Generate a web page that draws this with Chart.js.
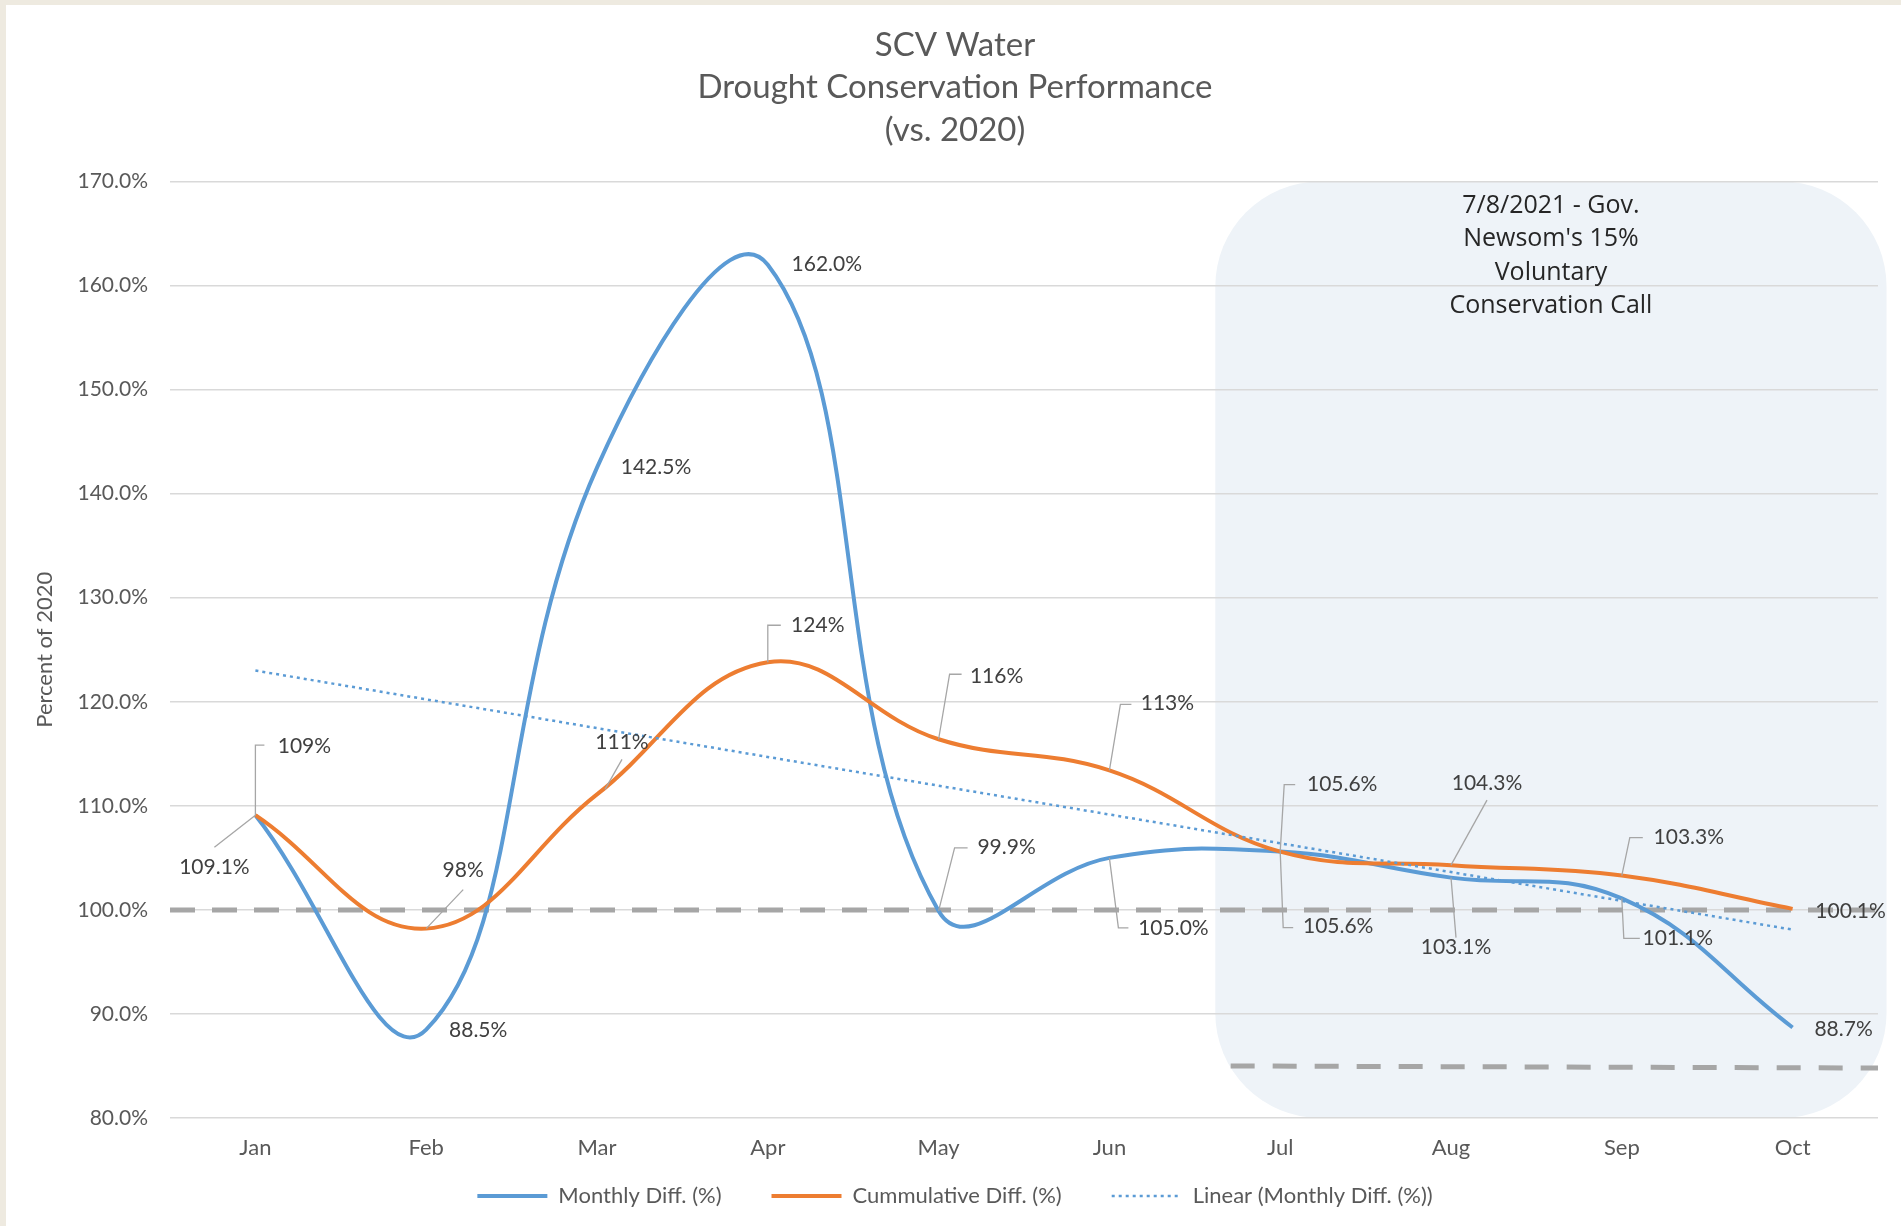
<!DOCTYPE html>
<html>
<head>
<meta charset="utf-8">
<script src="https://cdn.jsdelivr.net/npm/chart.js@4.4.0/dist/chart.umd.min.js"></script>
<style>
  html, body { margin: 0; padding: 0; width: 1901px; height: 1226px; overflow: hidden; background: #EEEAE0; }
  #frame { position: absolute; left: 6px; top: 5px; width: 1895px; height: 1221px; background: #ffffff; }
  #wrap { position: absolute; left: 0; top: 0; width: 1901px; height: 1226px; }
</style>
</head>
<body>
<div id="frame"></div>
<div id="wrap"><canvas id="c" width="1901" height="1226"></canvas></div>
<script>
// ---------- data ----------
const months = ['Jan', 'Feb', 'Mar', 'Apr', 'May', 'Jun', 'Jul', 'Aug', 'Sep', 'Oct'];
const monthlyDiff = [109.1, 88.5, 142.5, 162.0, 99.9, 105.0, 105.6, 103.1, 101.1, 88.7];
const cumulativeDiff = [109.1, 98.2, 111.1, 123.8, 116.4, 113.4, 105.6, 104.3, 103.3, 100.1];
const monthlyLabels = ['109.1%', '88.5%', '142.5%', '162.0%', '99.9%', '105.0%', '105.6%', '103.1%', '101.1%', '88.7%'];
const cumulativeLabels = ['109%', '98%', '111%', '124%', '116%', '113%', '105.6%', '104.3%', '103.3%', '100.1%'];
const trendJanOct = [123.0, 98.1];          // linear trend read at Jan and Oct
const baselineLevel = [100, 100];           // dashed 100% line (start, end)
const targetLevel = [85.0, 84.8];           // dashed 85% line (start, end)
const seriesNames = ['Monthly Diff. (%)', 'Cummulative Diff. (%)', 'Linear (Monthly Diff. (%))'];
const titleLines = ['SCV Water', 'Drought Conservation Performance', '(vs. 2020)'];
const noteLines = ['7/8/2021 - Gov.', "Newsom's 15%", 'Voluntary', 'Conservation Call'];

// ---------- annotation placement (in axis units) ----------
const shadeSpan = { x0: 5.62, x1: 9.55, y0: 80, y1: 170 };
const targetSpan = [5.71, 9.5];
const fullSpan = [-0.5, 9.5];

// data-label placement (pixel offsets from the point, leader polylines)
const labelLayout = [
  { ds: 0, i: 0, dx: -41, dy: 52, leader: [[0, 0], [-41, 32]] },
  { ds: 0, i: 1, dx: 52, dy: 1 },
  { ds: 0, i: 2, dx: 59, dy: 0 },
  { ds: 0, i: 3, dx: 59, dy: -1 },
  { ds: 0, i: 4, dx: 68, dy: -64, leader: [[0, 0], [16, -63], [29, -63]] },
  { ds: 0, i: 5, dx: 64, dy: 70, leader: [[0, 0], [9, 70], [19, 70]] },
  { ds: 0, i: 6, dx: 58, dy: 75, leader: [[0, 0], [3, 76], [13, 76]] },
  { ds: 0, i: 7, dx: 5, dy: 70, leader: [[0, 0], [5, 60]] },
  { ds: 0, i: 8, dx: 56, dy: 40, leader: [[0, 0], [2, 40], [18, 40]] },
  { ds: 0, i: 9, dx: 51, dy: 2 },
  { ds: 1, i: 0, dx: 49, dy: -69, leader: [[0, 0], [0, -70], [9, -70]] },
  { ds: 1, i: 1, dx: 37, dy: -58, leader: [[0, 0], [37, -39]] },
  { ds: 1, i: 2, dx: 25, dy: -52, leader: [[8, -5], [25, -35]] },
  { ds: 1, i: 3, dx: 50, dy: -37, leader: [[0, 0], [0, -37], [13, -37]] },
  { ds: 1, i: 4, dx: 58, dy: -63, leader: [[0, 0], [11, -65], [23, -65]] },
  { ds: 1, i: 5, dx: 58, dy: -67, leader: [[0, 0], [11, -66], [22, -66]] },
  { ds: 1, i: 6, dx: 62, dy: -67, leader: [[0, 0], [4, -67], [15, -67]] },
  { ds: 1, i: 7, dx: 36, dy: -82, leader: [[0, 0], [36, -65]] },
  { ds: 1, i: 8, dx: 67, dy: -38, leader: [[0, 0], [8, -38], [21, -38]] },
  { ds: 1, i: 9, dx: 58, dy: 2 }
];
const labelTexts = [monthlyLabels, cumulativeLabels];

const BLUE = '#5B9BD5', ORANGE = '#ED7D31', DASH = '#A6A6A6', TXT = '#595959';
const FONT = 'Lato, "Open Sans", sans-serif';

const toPoints = arr => arr.map((v, i) => ({ x: i, y: v }));

// ---------- plugins ----------
function roundRectPath(ctx, x, y, w, h, r) {
  r = Math.min(r, w / 2, h / 2);
  ctx.beginPath();
  ctx.moveTo(x + r, y);
  ctx.lineTo(x + w - r, y);
  ctx.arcTo(x + w, y, x + w, y + r, r);
  ctx.lineTo(x + w, y + h - r);
  ctx.arcTo(x + w, y + h, x + w - r, y + h, r);
  ctx.lineTo(x + r, y + h);
  ctx.arcTo(x, y + h, x, y + h - r, r);
  ctx.lineTo(x, y + r);
  ctx.arcTo(x, y, x + r, y, r);
  ctx.closePath();
}

const shadePlugin = {
  id: 'shade',
  beforeDraw(chart) {
    const { ctx, scales: { x, y } } = chart;
    const l = x.getPixelForValue(shadeSpan.x0), r = x.getPixelForValue(shadeSpan.x1);
    const t = y.getPixelForValue(shadeSpan.y1), b = y.getPixelForValue(shadeSpan.y0);
    ctx.save();
    ctx.fillStyle = '#EEF3F8';
    roundRectPath(ctx, l, t, r - l, b - t, 105);
    ctx.fill();
    ctx.restore();
  },
  afterDraw(chart) {
    const { ctx, scales: { x, y } } = chart;
    const cx = x.getPixelForValue((shadeSpan.x0 + shadeSpan.x1) / 2);
    const t = y.getPixelForValue(shadeSpan.y1);
    ctx.save();
    ctx.fillStyle = '#262626';
    ctx.font = '25px "Open Sans", sans-serif';
    ctx.textAlign = 'center';
    ctx.textBaseline = 'middle';
    noteLines.forEach((s, k) => ctx.fillText(s, cx, t + 24 + k * 33.5));
    ctx.restore();
  }
};

const labelPlugin = {
  id: 'dataLabels',
  afterDatasetsDraw(chart) {
    const { ctx } = chart;
    ctx.save();
    labelLayout.forEach(L => {
      const el = chart.getDatasetMeta(L.ds).data[L.i];
      if (!el) return;
      const px = el.x, py = el.y;
      if (L.leader) {
        ctx.strokeStyle = '#A6A6A6';
        ctx.lineWidth = 1.3;
        ctx.setLineDash([]);
        ctx.beginPath();
        L.leader.forEach((p, k) => {
          if (k === 0) ctx.moveTo(px + p[0], py + p[1]);
          else ctx.lineTo(px + p[0], py + p[1]);
        });
        ctx.stroke();
      }
      ctx.fillStyle = '#404040';
      ctx.font = '21px ' + FONT;
      ctx.textAlign = 'center';
      ctx.textBaseline = 'middle';
      ctx.fillText(labelTexts[L.ds][L.i], px + L.dx, py + L.dy);
    });
    ctx.restore();
  }
};

// ---------- chart ----------
new Chart(document.getElementById('c'), {
  type: 'line',
  data: {
    datasets: [
      {
        label: seriesNames[0], data: toPoints(monthlyDiff),
        borderColor: BLUE, backgroundColor: BLUE, borderWidth: 4,
        tension: 0.42, pointRadius: 0, order: 2, fill: false
      },
      {
        label: seriesNames[1], data: toPoints(cumulativeDiff),
        borderColor: ORANGE, backgroundColor: ORANGE, borderWidth: 4,
        tension: 0.4, pointRadius: 0, order: 1, fill: false
      },
      {
        label: seriesNames[2],
        data: [{ x: 0, y: trendJanOct[0] }, { x: months.length - 1, y: trendJanOct[1] }],
        borderColor: BLUE, backgroundColor: BLUE, borderWidth: 2.5, borderDash: [3, 4],
        pointRadius: 0, order: 0, fill: false
      },
      {
        label: '', data: [{ x: fullSpan[0], y: baselineLevel[0] }, { x: fullSpan[1], y: baselineLevel[1] }],
        borderColor: DASH, borderWidth: 5, borderDash: [25, 17], pointRadius: 0, order: 3, fill: false
      },
      {
        label: '', data: [{ x: targetSpan[0], y: targetLevel[0] }, { x: targetSpan[1], y: targetLevel[1] }],
        borderColor: DASH, borderWidth: 5, borderDash: [24, 18], pointRadius: 0, order: 4, fill: false
      }
    ]
  },
  options: {
    responsive: false,
    animation: false,
    devicePixelRatio: 1,
    layout: { padding: { top: 0, left: 32, right: 23, bottom: 9 } },
    scales: {
      x: {
        type: 'linear', min: fullSpan[0], max: fullSpan[1],
        grid: { display: false, drawTicks: false },
        border: { display: false },
        afterBuildTicks: s => { s.ticks = months.map((m, i) => ({ value: i })); },
        ticks: {
          autoSkip: false, maxRotation: 0, mirror: true, padding: -43,
          color: TXT, font: { family: FONT, size: 22 },
          callback: v => months[Math.round(v)] || ''
        },
        afterFit: s => { s.height = 17; }
      },
      y: {
        min: 80, max: 170,
        grid: { color: '#D9D9D9', lineWidth: 1.5, drawTicks: false },
        border: { display: false },
        ticks: {
          stepSize: 10, padding: 22, color: TXT, font: { family: FONT, size: 21 },
          callback: v => v.toFixed(1) + '%'
        },
        title: {
          display: true, text: 'Percent of 2020', color: TXT,
          font: { family: FONT, size: 22 }, padding: { top: 0, bottom: 0 }
        },
        afterFit: s => { s.width = 138; }
      }
    },
    plugins: {
      title: {
        display: true, text: titleLines, color: TXT,
        font: { family: FONT, size: 33, weight: 'normal', lineHeight: 1.288 },
        padding: { top: 24, bottom: 30 }
      },
      legend: {
        display: true, position: 'bottom',
        labels: {
          usePointStyle: true, pointStyle: 'line', pointStyleWidth: 70,
          padding: 50, color: TXT, font: { family: FONT, size: 22 },
          generateLabels: chart => {
            const items = Chart.defaults.plugins.legend.labels.generateLabels(chart);
            items.forEach(it => {
              const ds = chart.data.datasets[it.datasetIndex];
              it.lineWidth = ds.borderWidth;
              it.lineDash = ds.borderDash || [];
              it.strokeStyle = ds.borderColor;
              it.pointStyle = 'line';
            });
            return items;
          },
          filter: item => item.text !== '',
          sort: (a, b) => a.datasetIndex - b.datasetIndex
        }
      },
      tooltip: { enabled: false }
    }
  },
  plugins: [shadePlugin, labelPlugin]
});
</script>
</body>
</html>
